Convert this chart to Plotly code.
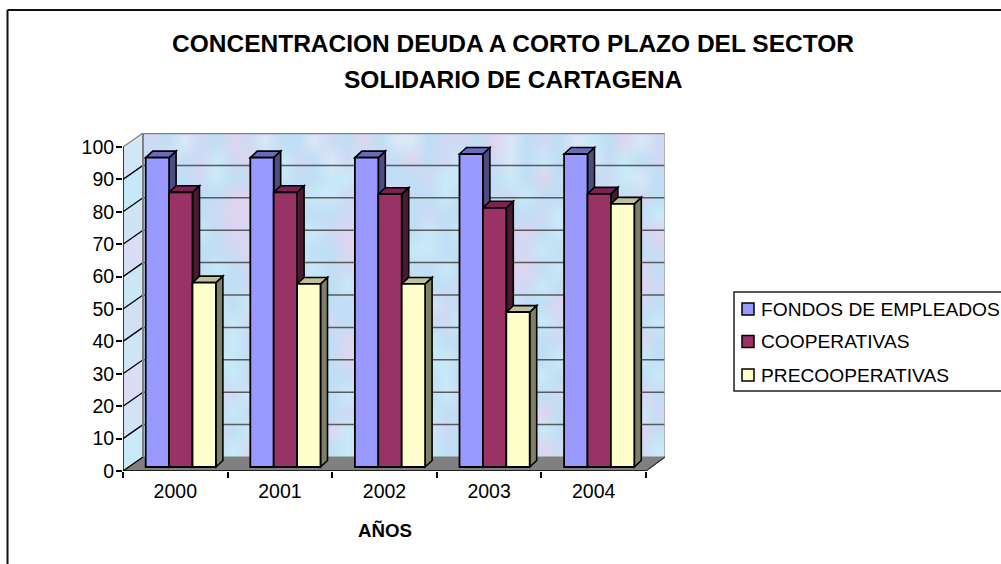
import base64, struct, zlib
import plotly.graph_objects as go

# ---------- data ----------
YEARS = ["2000", "2001", "2002", "2003", "2004"]
SERIES_NAMES = ["FONDOS DE EMPLEADOS", "COOPERATIVAS", "PRECOOPERATIVAS"]
FONDOS = [95.5, 95.5, 95.5, 96.6, 96.6]
COOPERATIVAS = [84.8, 84.8, 84.2, 80.0, 84.3]
PRECOOPERATIVAS = [56.9, 56.5, 56.5, 47.8, 81.2]
Y_TICKS = [0, 10, 20, 30, 40, 50, 60, 70, 80, 90, 100]
TITLE_LINES = ["CONCENTRACION DEUDA A CORTO PLAZO DEL SECTOR", "SOLIDARIO DE CARTAGENA"]
X_TITLE = "AÑOS"

# ---------- styles ----------
FRONT = ["#9999FF", "#993366", "#FFFFCC"]
TOP = ["#6A6AB8", "#7A2352", "#BFBF99"]
SIDE = ["#4D4D80", "#4A1A33", "#808066"]
FONT = "Liberation Sans"
W, H = 1001, 564

# pixel frame of the pseudo-3D box
PX_LEFT, PX_BACK_RIGHT, PX_FRONT_RIGHT = 123, 665, 646
PX_TOP_BACK, PX_BASE = 133, 471
CAT_PX = (PX_FRONT_RIGHT - PX_LEFT) / len(YEARS)
VAL_PX = 3.24
WALL_DX = 20 / CAT_PX      # depth of the box in axis units
WALL_DY = 14 / VAL_PX
BAR_W = 23.4 / CAT_PX
BAR_SHIFT_X = 5.5 / CAT_PX  # bars stand a little inside the floor
BAR_BASE = 4 / VAL_PX
BAR_DX = 7 / CAT_PX
BAR_DY = 6.5 / VAL_PX

X_MAX = (PX_BACK_RIGHT - PX_LEFT) / CAT_PX
Y_MAX = (PX_BASE - PX_TOP_BACK) / VAL_PX

# ---------- mottled wall texture (hand-read tints) ----------
TINTS = {"b": (192, 222, 245), "c": (200, 234, 248), "p": (222, 214, 240),
         "l": (208, 218, 245), "w": (218, 232, 248)}
TEXTURE = [
    "lbwlbplwbbwlbpbwwbllbpwblbwcbpwl",
    "bwblclpbclbwlclbpblcblwbcblwbcbl",
    "cbblcbbpcbbcclbbblcclbcbpbcblcwb",
    "cclbbpplbbcclblpbbcblblcbblpcblb",
    "bcbblppbcbbblpbcblbbcbbblcbbplbc",
    "lbccbplpbcclpplbbcbcbblpbcclbblp",
    "plcbblppbcbbpplbccbbllplcblpbcbl",
    "lbcbcblbbbcblpbcbbcblbppbcbbclpb",
    "bcclbblcbcbbcblbcbblcbplcbblbcpl",
    "blpbcbcblbcbblpbbclblbcbbplcbblb",
    "cbppbclbcbblbbplbblcbbbcclbbpcbc",
    "cblpbcbblcbbpblpbcbblpcbblcbblpb",
    "bcbbccbbcclbppbcbccbpbcbbccplbcb",
    "ccbcbcblbccbbpbccbcbbcbwcbbcbpbc",
    "lbcbplcbblcbcpblbbclpbcbblcclbpb",
    "bcplbcbbpcbblbcbpcbbclbcpbbcblcl",
    "cbblpbcclbbpcblbcclbpbblcbpbbcpb",
    "bpcbbclbpcbbclpbbcbblccbplbcbblc",
]


def texture_uri(rows):
    height, width = len(rows), len(rows[0])
    raw = b"".join(b"\x00" + b"".join(bytes(TINTS[c]) for c in r) for r in rows)

    def chunk(tag, data):
        body = tag + data
        return struct.pack(">I", len(data)) + body + struct.pack(">I", zlib.crc32(body))

    png = (b"\x89PNG\r\n\x1a\n"
           + chunk(b"IHDR", struct.pack(">IIBBBBB", width, height, 8, 2, 0, 0, 0))
           + chunk(b"IDAT", zlib.compress(raw))
           + chunk(b"IEND", b""))
    return "data:image/png;base64," + base64.b64encode(png).decode()


def poly(points, fill, line="#000000", width=1.6, layer="below"):
    path = "M " + " L ".join(f"{x},{y}" for x, y in points) + " Z"
    return dict(type="path", path=path, xref="x", yref="y", fillcolor=fill,
                line=dict(color=line, width=width), layer=layer)


def seg(x0, y0, x1, y1, color="#000000", width=1.5):
    return dict(type="line", xref="x", yref="y", x0=x0, y0=y0, x1=x1, y1=y1,
                line=dict(color=color, width=width), layer="below")


shapes = []
# left wall in tinted bands, floor, wall frame
LEFT_TINTS = ["#C8EAF8", "#D4E2F6", "#DCDCF4", "#CFE4F6", "#D2E0F6",
              "#CBE6F7", "#D8DEF5", "#D0E2F6", "#C6E8F8", "#D2E6F8"]
for k, tint in enumerate(LEFT_TINTS):
    lo, hi = k * 10, (k + 1) * 10
    shapes.append(poly([(0, lo), (0, hi), (WALL_DX, hi + WALL_DY), (WALL_DX, lo + WALL_DY)],
                       tint, line=tint, width=0))
shapes.append(poly([(0, 0), (WALL_DX, WALL_DY), (X_MAX, WALL_DY), (len(YEARS), 0)],
                   "#808080", line="#808080", width=1))
for v in Y_TICKS[1:-1]:
    shapes.append(seg(WALL_DX, v + WALL_DY, X_MAX, v + WALL_DY, "#5A5A5A", 1.5))
for v in Y_TICKS:
    shapes.append(seg(0, v, WALL_DX, v + WALL_DY, "#000000" if v < 100 else "#808080", 1.3))
shapes.append(seg(WALL_DX, WALL_DY, WALL_DX, 100 + WALL_DY, "#808080", 2))
shapes.append(seg(WALL_DX, 100 + WALL_DY, X_MAX, 100 + WALL_DY, "#808080", 2.5))
shapes.append(seg(X_MAX, WALL_DY, X_MAX, 100 + WALL_DY, "#A0A0A0", 1.5))
shapes.append(seg(len(YEARS), 0, X_MAX, WALL_DY, "#303030", 1.2))
shapes.append(seg(0, 0, 0, 100, "#000000", 1.5))
shapes.append(seg(0, 0, len(YEARS), 0, "#000000", 1.5))

# outer chart frame
shapes.append(dict(type="line", xref="paper", yref="paper", x0=7.5 / W, x1=1, y0=1 - 10 / H, y1=1 - 10 / H,
                   line=dict(color="#111111", width=2)))
shapes.append(dict(type="line", xref="paper", yref="paper", x0=7.5 / W, x1=7.5 / W, y0=0, y1=1 - 10 / H,
                   line=dict(color="#111111", width=2)))

# bars: fronts through go.Bar, depth faces drawn behind them from the same values
all_series = [FONDOS, COOPERATIVAS, PRECOOPERATIVAS]
traces = []
for j, (name, values) in enumerate(zip(SERIES_NAMES, all_series)):
    centers = [i + 0.5 + BAR_SHIFT_X + (j - 1) * BAR_W for i in range(len(YEARS))]
    traces.append(go.Bar(name=name, x=centers, y=values, base=[BAR_BASE] * len(values),
                         width=BAR_W, marker=dict(color=FRONT[j], line=dict(color="#000000", width=1.8)),
                         showlegend=False, hoverinfo="y+name"))
    for cx, v in zip(centers, values):
        l, r, t = cx - BAR_W / 2, cx + BAR_W / 2, BAR_BASE + v
        shapes.append(poly([(r, BAR_BASE), (r + BAR_DX, BAR_BASE + BAR_DY),
                            (r + BAR_DX, t + BAR_DY), (r, t)], SIDE[j]))
        shapes.append(poly([(l, t), (l + BAR_DX, t + BAR_DY), (r + BAR_DX, t + BAR_DY), (r, t)], TOP[j]))

fig = go.Figure(traces)

# custom legend
LEG_L, LEG_T, LEG_B = 734, 292, 391
shapes.append(dict(type="rect", xref="paper", yref="paper", x0=LEG_L / W, x1=1.002,
                   y0=1 - LEG_B / H, y1=1 - LEG_T / H, fillcolor="#FFFFFF",
                   line=dict(color="#222222", width=1.5), layer="above"))
LEG_Y = [309, 341.5, 375]
annotations = []
for name, color, y in zip(SERIES_NAMES, FRONT, LEG_Y):
    shapes.append(dict(type="rect", xref="paper", yref="paper", x0=742 / W, x1=754 / W,
                       y0=1 - (y + 6) / H, y1=1 - (y - 6) / H, fillcolor=color,
                       line=dict(color="#000000", width=1.5), layer="above"))
    annotations.append(dict(text=name, xref="paper", yref="paper", x=759 / W, y=1 - y / H,
                            xanchor="left", yanchor="middle", showarrow=False,
                            font=dict(family=FONT, size=19.2, color="#000000")))
for line, y in zip(TITLE_LINES, [43, 80]):
    annotations.append(dict(text=f"<b>{line}</b>", xref="paper", yref="paper", x=513 / W, y=1 - y / H,
                            xanchor="center", yanchor="middle", showarrow=False,
                            font=dict(family=FONT, size=24.5, color="#000000")))
annotations.append(dict(text=f"<b>{X_TITLE}</b>", xref="paper", yref="paper", x=385 / W, y=1 - 530 / H,
                        xanchor="center", yanchor="middle", showarrow=False,
                        font=dict(family=FONT, size=18.7, color="#000000")))

fig.update_layout(
    width=W, height=H, margin=dict(l=0, r=0, t=0, b=0, autoexpand=False), autosize=False,
    paper_bgcolor="#FFFFFF", plot_bgcolor="rgba(0,0,0,0)", barmode="overlay",
    xaxis=dict(domain=[PX_LEFT / W, PX_BACK_RIGHT / W], range=[0, X_MAX], anchor="y", automargin=False,
               tickmode="array", tickvals=[i + 0.5 for i in range(len(YEARS))], ticktext=YEARS,
               ticks="", showgrid=False, zeroline=False, showline=False, ticklabelstandoff=6,
               tickfont=dict(family=FONT, size=19.5, color="#000000"),
               minor=dict(tickmode="array", tickvals=list(range(len(YEARS) + 1)), ticks="outside",
                          ticklen=6, tickwidth=1.5, tickcolor="#000000", showgrid=False)),
    yaxis=dict(domain=[1 - PX_BASE / H, 1 - PX_TOP_BACK / H], range=[0, Y_MAX], anchor="x", automargin=False,
               tickmode="array", tickvals=Y_TICKS, ticks="outside", ticklen=6, tickwidth=1.5,
               tickcolor="#000000", showgrid=False, zeroline=False, showline=False,
               ticklabelstandoff=-2,
               tickfont=dict(family=FONT, size=19.5, color="#000000")),
    images=[dict(source=texture_uri(TEXTURE), xref="paper", yref="paper",
                 x=(PX_LEFT + 20) / W, y=1 - PX_TOP_BACK / H,
                 sizex=(PX_BACK_RIGHT - PX_LEFT - 20) / W, sizey=324 / H, sizing="stretch", layer="below",
                 xanchor="left", yanchor="top")],
    shapes=shapes, annotations=annotations, showlegend=False,
)
fig.write_html("out.html", config={"displayModeBar": False},
               post_script="document.body.style.margin='0';")
